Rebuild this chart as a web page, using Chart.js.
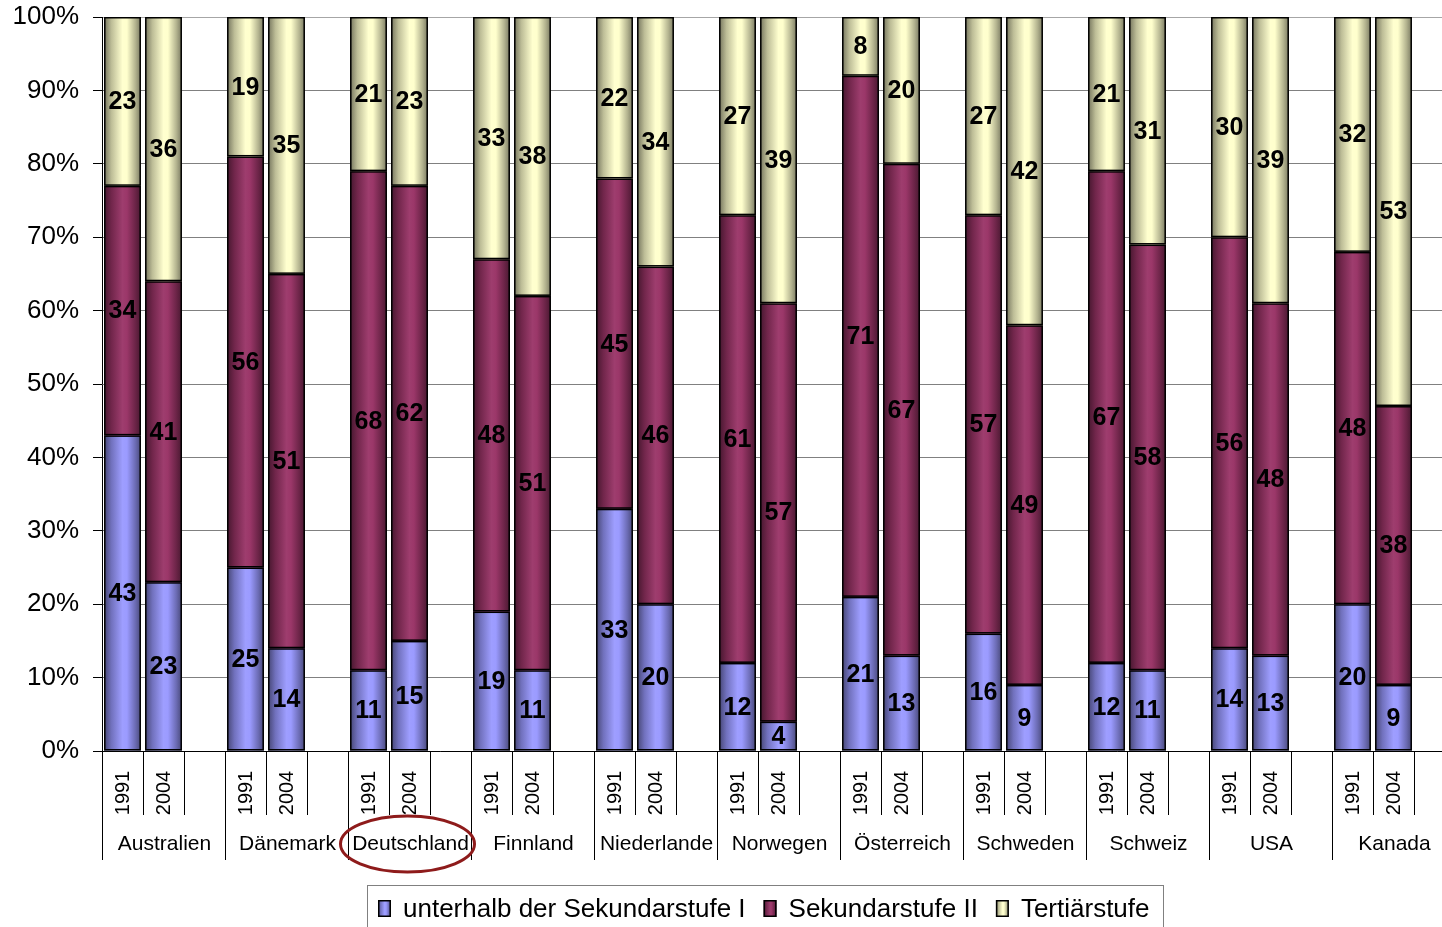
<!DOCTYPE html>
<html><head><meta charset="utf-8">
<script src="https://cdn.jsdelivr.net/npm/chart.js@4"></script>
<style>html,body{margin:0;padding:0;background:#fff;overflow:hidden}
#wrap{position:relative;width:1456px;height:927px}</style></head>
<body><div id="wrap"><canvas id="c" width="1456" height="927"></canvas></div>
<script>
const countries = ['Australien','Dänemark','Deutschland','Finnland','Niederlande','Norwegen','Österreich','Schweden','Schweiz','USA','Kanada'];
const years = ['1991','2004'];
const seriesNames = ['unterhalb der Sekundarstufe I','Sekundarstufe II','Tertiärstufe'];
// values per country: 1991, 2004
const unterhalb = [43,23, 25,14, 11,15, 19,11, 33,20, 12,4, 21,13, 16,9, 12,11, 14,13, 20,9];
const sekundarII = [34,41, 56,51, 68,62, 48,51, 45,46, 61,57, 71,67, 57,49, 67,58, 56,48, 48,38];
const tertiaer = [23,36, 19,35, 21,23, 33,38, 22,34, 27,39, 8,20, 27,42, 21,31, 30,39, 32,53];
const yTicks = [0,10,20,30,40,50,60,70,80,90,100];
const highlighted = 'Deutschland';
const baseColors = ['#9999ff','#993366','#ffffcc'];

const FONT = '"Liberation Sans", Arial, sans-serif';

const labels = [];
countries.forEach(c => { years.forEach(y => labels.push(c + ' ' + y)); labels.push(''); });
function expand(arr){
  const out = [];
  countries.forEach((c,i) => { out.push(arr[2*i], arr[2*i+1], null); });
  return out;
}

function hexToRgb(h){ h=h.replace('#',''); return [0,2,4].map(i=>parseInt(h.substr(i,2),16)); }
function shade(hex,f){
  const [r,g,b]=hexToRgb(hex);
  const m=v=>Math.max(0,Math.min(255,Math.round(f<=1? v*f : v+(255-v)*(f-1))));
  return 'rgb('+m(r)+','+m(g)+','+m(b)+')';
}
function makeGrad(ctx,x0,x1,base){
  const g=ctx.createLinearGradient(x0,0,x1,0);
  g.addColorStop(0,shade(base,0.45));
  g.addColorStop(0.2,shade(base,0.74));
  g.addColorStop(0.5,shade(base,1.05));
  g.addColorStop(0.62,shade(base,1.02));
  g.addColorStop(0.85,shade(base,0.7));
  g.addColorStop(1,shade(base,0.47));
  return g;
}

// shaded fill of every bar element (geometry taken from the library's bar elements)
const shadePlugin = {
  id:'barShade',
  afterDatasetsDraw(chart){
    const ctx=chart.ctx, xs=chart.scales.x;
    const slot=xs.getPixelForValue(1)-xs.getPixelForValue(0);
    chart.data.datasets.forEach((ds,di)=>{
      const meta=chart.getDatasetMeta(di);
      meta.data.forEach((el,i)=>{
        if(ds.data[i]==null) return;
        const w=isFinite(el.width)?el.width:slot*0.9;
        const x0=el.x-w/2, top=Math.min(el.y,el.base), h=Math.abs(el.base-el.y);
        if(!isFinite(x0)||!isFinite(top)||!isFinite(h)) return;
        ctx.save();
        ctx.fillStyle=makeGrad(ctx,x0,x0+w,baseColors[di]);
        ctx.fillRect(x0,top,w,h);
        ctx.strokeStyle='#000'; ctx.lineWidth=1.5;
        ctx.strokeRect(x0+0.75,top+0.75,w-1.5,h-1.5);
        ctx.restore();
      });
    });
  }
};

const valuePlugin = {
  id:'values',
  afterDatasetsDraw(chart){
    const ctx=chart.ctx;
    ctx.save();
    ctx.font='bold 25px '+FONT;
    ctx.fillStyle='#000';
    ctx.textAlign='center';
    ctx.textBaseline='middle';
    chart.data.datasets.forEach((ds,di)=>{
      const meta=chart.getDatasetMeta(di);
      meta.data.forEach((el,i)=>{
        const v=ds.data[i];
        if(v==null) return;
        ctx.fillText(String(v), el.x, (el.y+el.base)/2+1);
      });
    });
    ctx.restore();
  }
};

const axisPlugin = {
  id:'axisLabels',
  afterDraw(chart){
    const ctx=chart.ctx, xs=chart.scales.x, area=chart.chartArea;
    const slot=xs.getPixelForValue(1)-xs.getPixelForValue(0);
    const bound=k=>xs.getPixelForValue(0)-slot/2+k*slot;
    ctx.save();
    ctx.strokeStyle='#000'; ctx.lineWidth=1;
    for(let k=0;k<=labels.length;k++){
      const x=Math.round(bound(k))+0.5;
      ctx.beginPath();
      ctx.moveTo(x,area.bottom);
      ctx.lineTo(x, k%3===0 ? 860 : 815);
      ctx.stroke();
    }
    ctx.fillStyle='#000';
    ctx.font='20px '+FONT;
    ctx.textAlign='center'; ctx.textBaseline='middle';
    countries.forEach((c,i)=>{
      years.forEach((y,j)=>{
        const x=xs.getPixelForValue(3*i+j);
        ctx.save(); ctx.translate(x+1,793); ctx.rotate(-Math.PI/2);
        ctx.fillText(y,0,0); ctx.restore();
      });
    });
    ctx.font='21px '+FONT;
    countries.forEach((c,i)=>{
      const cx=(bound(3*i)+bound(3*i+3))/2;
      ctx.fillText(c,cx+1,844);
    });
    const hi=countries.indexOf(highlighted);
    if(hi>=0){
      const cx=(bound(3*hi)+bound(3*hi+3))/2-2;
      ctx.strokeStyle='#8e1b1b'; ctx.lineWidth=3;
      ctx.beginPath(); ctx.ellipse(cx,844,67,28,0,0,Math.PI*2); ctx.stroke();
    }
    ctx.strokeStyle='#808080'; ctx.lineWidth=1;
    ctx.strokeRect(367.5,885.5,796,60);
    ctx.font='26px '+FONT; ctx.textAlign='left'; ctx.textBaseline='middle';
    let x=378;
    seriesNames.forEach((n,i)=>{
      ctx.fillStyle=makeGrad(ctx,x,x+13,baseColors[i]);
      ctx.fillRect(x,900,13,17);
      ctx.strokeStyle='#000'; ctx.lineWidth=1.5;
      ctx.strokeRect(x+0.75,900.75,11.5,15.5);
      ctx.fillStyle='#000';
      ctx.fillText(n,x+25,910);
      x+=25+ctx.measureText(n).width+18;
    });
    ctx.restore();
  }
};

new Chart(document.getElementById('c'),{
  type:'bar',
  data:{
    labels,
    datasets:[unterhalb,sekundarII,tertiaer].map((arr,i)=>({
      label:seriesNames[i],
      data:expand(arr),
      backgroundColor:baseColors[i],
      borderColor:'#000',
      borderWidth:1.5,
      borderSkipped:false,
      barPercentage:0.9,
      categoryPercentage:1
    }))
  },
  options:{
    responsive:false,
    animation:false,
    devicePixelRatio:1,
    layout:{padding:{top:17,right:1,left:0,bottom:0}},
    plugins:{legend:{display:false},tooltip:{enabled:false}},
    scales:{
      x:{stacked:true,offset:true,grid:{display:false},
         border:{display:true,color:'#000',width:1},
         ticks:{display:false},
         afterFit(s){s.height=176; s.paddingLeft=0; s.paddingRight=0;}},
      y:{stacked:true,min:0,max:100,
         afterBuildTicks(s){s.ticks=yTicks.map(v=>({value:v}));},
         ticks:{callback:v=>v+'%',font:{family:FONT,size:26},color:'#000',padding:14},
         grid:{color:c=>(c.tick&&c.tick.value===100)?'#a6a6a6':'#808080',tickLength:9,tickColor:'#000',lineWidth:1},
         border:{color:'#000',width:1},
         afterFit(s){s.width=102; s.paddingTop=0; s.paddingBottom=0;}}
    }
  },
  plugins:[shadePlugin,valuePlugin,axisPlugin]
});
</script></body></html>
